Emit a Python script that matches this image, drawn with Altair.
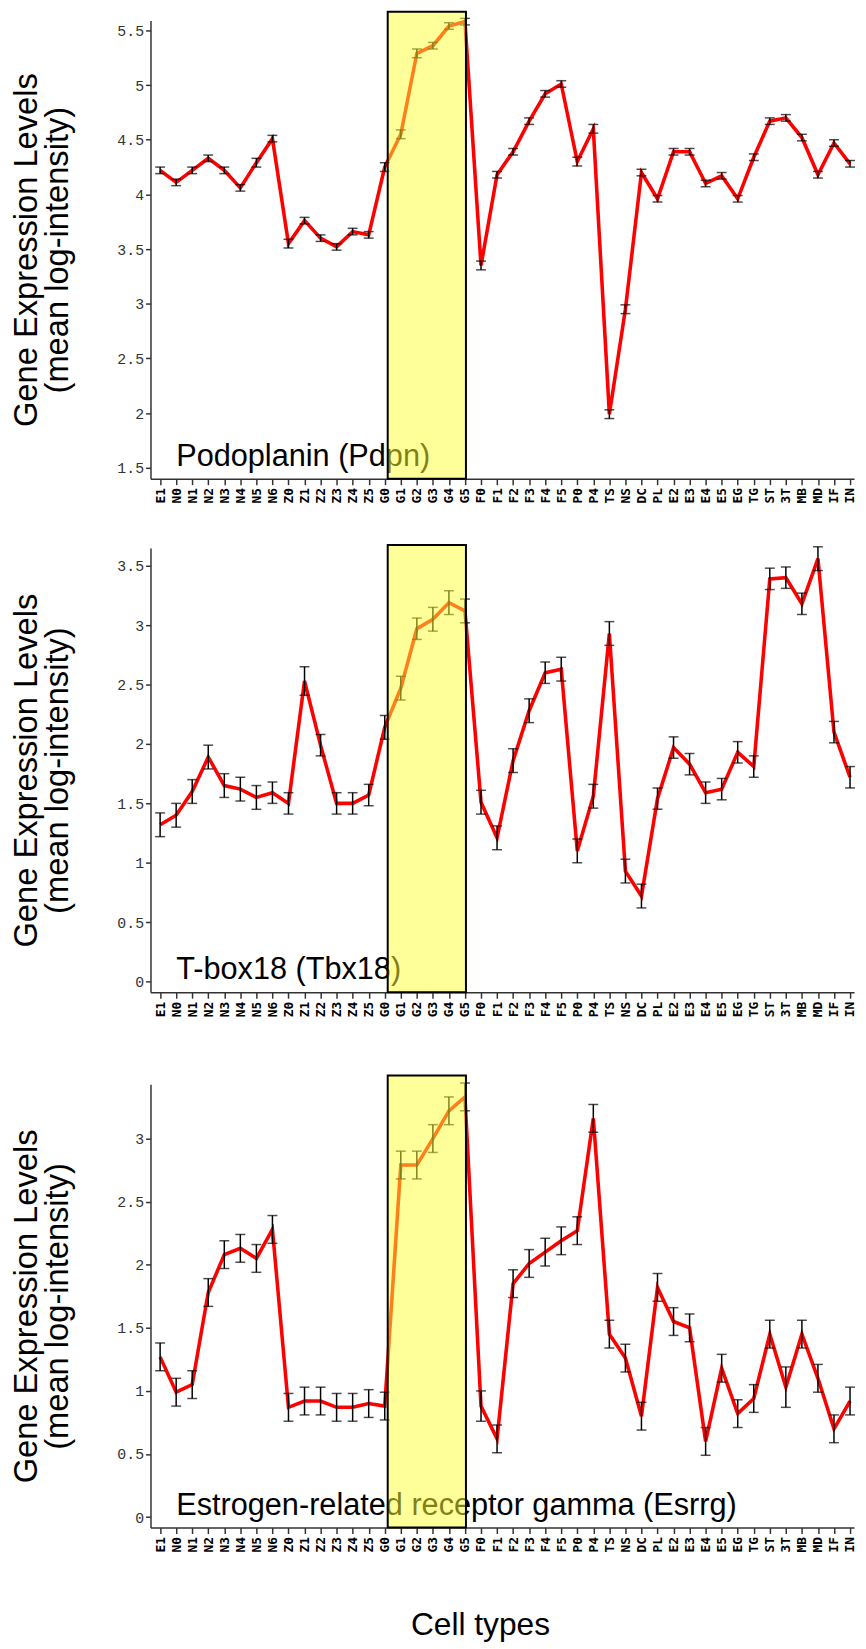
import altair as alt
import pandas as pd

cells = ["E1", "N0", "N1", "N2", "N3", "N4", "N5", "N6",
         "Z0", "Z1", "Z2", "Z3", "Z4", "Z5",
         "G0", "G1", "G2", "G3", "G4", "G5",
         "F0", "F1", "F2", "F3", "F4", "F5",
         "P0", "P4", "TS", "NS", "DC", "PL",
         "E2", "E3", "E4", "E5", "EG", "TG",
         "ST", "3T", "MB", "MD", "IF", "IN"]

pdpn_mean = [4.22, 4.11, 4.22, 4.33, 4.22, 4.06, 4.29, 4.51,
             3.55, 3.76, 3.60, 3.52, 3.66, 3.63,
             4.25, 4.55, 5.29, 5.36, 5.54, 5.58,
             3.35, 4.18, 4.39, 4.67, 4.92, 5.01,
             4.30, 4.60, 1.99, 2.95, 4.20, 3.96,
             4.39, 4.39, 4.10, 4.17, 3.96, 4.34,
             4.67, 4.70, 4.52, 4.18, 4.47, 4.28]
pdpn_err = [0.03, 0.03, 0.03, 0.03, 0.03, 0.03, 0.04, 0.03,
            0.04, 0.03, 0.03, 0.03, 0.03, 0.03,
            0.04, 0.04, 0.04, 0.03, 0.03, 0.03,
            0.04, 0.03, 0.03, 0.03, 0.03, 0.03,
            0.04, 0.04, 0.04, 0.04, 0.03, 0.03,
            0.03, 0.03, 0.03, 0.03, 0.03, 0.03,
            0.03, 0.03, 0.03, 0.03, 0.03, 0.03]

tbx18_mean = [1.32, 1.40, 1.60, 1.89, 1.65, 1.62, 1.55, 1.59,
              1.50, 2.53, 1.99, 1.50, 1.50, 1.57,
              2.14, 2.47, 2.97, 3.05, 3.19, 3.12,
              1.51, 1.21, 1.86, 2.28, 2.60, 2.63,
              1.10, 1.56, 2.93, 0.93, 0.72, 1.54,
              1.97, 1.83, 1.59, 1.62, 1.93, 1.81,
              3.39, 3.40, 3.18, 3.56, 2.10, 1.72]
tbx18_err = [0.10, 0.10, 0.10, 0.10, 0.10, 0.10, 0.10, 0.09,
             0.09, 0.12, 0.09, 0.09, 0.09, 0.09,
             0.10, 0.10, 0.09, 0.10, 0.10, 0.10,
             0.10, 0.10, 0.10, 0.10, 0.09, 0.10,
             0.10, 0.10, 0.10, 0.10, 0.10, 0.09,
             0.09, 0.09, 0.09, 0.09, 0.09, 0.09,
             0.09, 0.09, 0.09, 0.10, 0.09, 0.09]

esrrg_mean = [1.27, 0.99, 1.05, 1.78, 2.08, 2.13, 2.05, 2.28,
              0.87, 0.92, 0.92, 0.87, 0.87, 0.90,
              0.88, 2.79, 2.79, 3.00, 3.22, 3.33,
              0.88, 0.62, 1.85, 2.01, 2.10, 2.19,
              2.27, 3.16, 1.45, 1.26, 0.80, 1.82,
              1.55, 1.50, 0.60, 1.18, 0.82, 0.94,
              1.45, 1.03, 1.45, 1.10, 0.70, 0.92]
esrrg_err = [0.11, 0.11, 0.11, 0.11, 0.11, 0.11, 0.11, 0.11,
             0.11, 0.11, 0.11, 0.11, 0.11, 0.11,
             0.11, 0.11, 0.11, 0.11, 0.11, 0.11,
             0.12, 0.11, 0.11, 0.11, 0.11, 0.11,
             0.11, 0.11, 0.11, 0.11, 0.11, 0.11,
             0.11, 0.11, 0.11, 0.11, 0.11, 0.11,
             0.11, 0.16, 0.11, 0.11, 0.11, 0.11]

gene_labels = ["Podoplanin (Pdpn)", "T-box18 (Tbx18)",
               "Estrogen-related receptor gamma (Esrrg)"]
y_title = ["Gene Expression Levels", "(mean log-intensity)"]
x_title = "Cell types"
highlight = ("G0", "G5")

PLOT_W = 711
label_expr = "[" + ",".join("'%s'" % c for c in cells) + "][datum.value]"


def panel(mean, err, ydom, yticks, h, gene, rect_over, last):
    df = pd.DataFrame({
        "idx": list(range(len(cells))),
        "cell": cells,
        "mean": mean,
        "lo": [m - e for m, e in zip(mean, err)],
        "hi": [m + e for m, e in zip(mean, err)],
    })
    xscale = alt.Scale(domain=[-0.6, 43.25], nice=False, zero=False)
    yscale = alt.Scale(domain=ydom, nice=False, zero=False)
    if last:
        xaxis = alt.Axis(values=list(range(len(cells))), labelExpr=label_expr,
                         labelAngle=270, title=x_title,
                         titleFont="Liberation Sans", titleFontSize=32,
                         titleFontWeight="normal", titleColor="black",
                         titlePadding=58, titleX=333)
    else:
        xaxis = alt.Axis(values=list(range(len(cells))), labelExpr=label_expr,
                         labelAngle=270, title=None)
    yaxis = alt.Axis(values=yticks, format="~g", title=y_title)

    def X(f):
        return alt.X(f, scale=xscale, axis=xaxis)

    def Y(f):
        return alt.Y(f, scale=yscale, axis=yaxis)

    base = alt.Chart(df)
    line = base.mark_line(color="#ff0000", strokeWidth=3.6).encode(
        x=X("idx:Q"), y=Y("mean:Q"))
    bars = base.mark_rule(color="black", strokeWidth=1.5).encode(
        x=X("idx:Q"), y=Y("lo:Q"), y2="hi:Q")
    cap_lo = base.mark_tick(color="black", orient="horizontal", size=10,
                            thickness=1.5).encode(x=X("idx:Q"), y=Y("lo:Q"))
    cap_hi = base.mark_tick(color="black", orient="horizontal", size=10,
                            thickness=1.5).encode(x=X("idx:Q"), y=Y("hi:Q"))
    text = alt.Chart(pd.DataFrame({"gene": [gene]})).mark_text(
        align="left", baseline="alphabetic", font="Liberation Sans",
        fontSize=31, color="black").encode(
        text="gene:N", x=alt.value(26), y=alt.value(h - 13))
    hl = pd.DataFrame({"x0": [cells.index(highlight[0])],
                       "x1": [cells.index(highlight[1])]})
    rect = alt.Chart(hl).mark_rect(
        fill="#ffff33", fillOpacity=0.5, stroke="black", strokeWidth=2,
        xOffset=3, x2Offset=1).encode(
        x=X("x0:Q"), x2="x1:Q",
        y=alt.value(-rect_over), y2=alt.value(h))
    return alt.layer(line, bars, cap_lo, cap_hi, text, rect).properties(
        width=PLOT_W, height=h)


p1 = panel(pdpn_mean, pdpn_err, [1.40, 5.59],
           [1.5, 2, 2.5, 3, 3.5, 4, 4.5, 5, 5.5], 463, gene_labels[0], 9, False)
p2 = panel(tbx18_mean, tbx18_err, [-0.09, 3.65],
           [0, 0.5, 1, 1.5, 2, 2.5, 3, 3.5], 449, gene_labels[1], 3, False)
p3 = panel(esrrg_mean, esrrg_err, [-0.083, 3.43],
           [0, 0.5, 1, 1.5, 2, 2.5, 3], 448, gene_labels[2], 9, True)

top = alt.vconcat(p1, p2, spacing=41)
chart = alt.vconcat(top, p3, spacing=58).properties(
    padding={"left": 2, "top": -6, "right": 0, "bottom": 0}
).configure_view(strokeWidth=0).configure_axis(
    grid=False, domainColor="#333333", domainWidth=1.5,
    tickColor="#333333", tickWidth=1.5,
).configure_axisX(
    labelFont="DejaVu Sans Mono", labelFontWeight="bold", labelFontSize=13,
    labelColor="black", labelPadding=3, tickSize=6,
).configure_axisY(
    labelFont="Liberation Mono", labelFontSize=15, labelColor="#333333",
    labelPadding=2, tickSize=5, titleFont="Liberation Sans", titleFontSize=33,
    titleFontWeight="normal", titleColor="black", titleLineHeight=31,
    titlePadding=43,
)

chart.save("out.html", embed_options={"renderer": "svg", "actions": False})
